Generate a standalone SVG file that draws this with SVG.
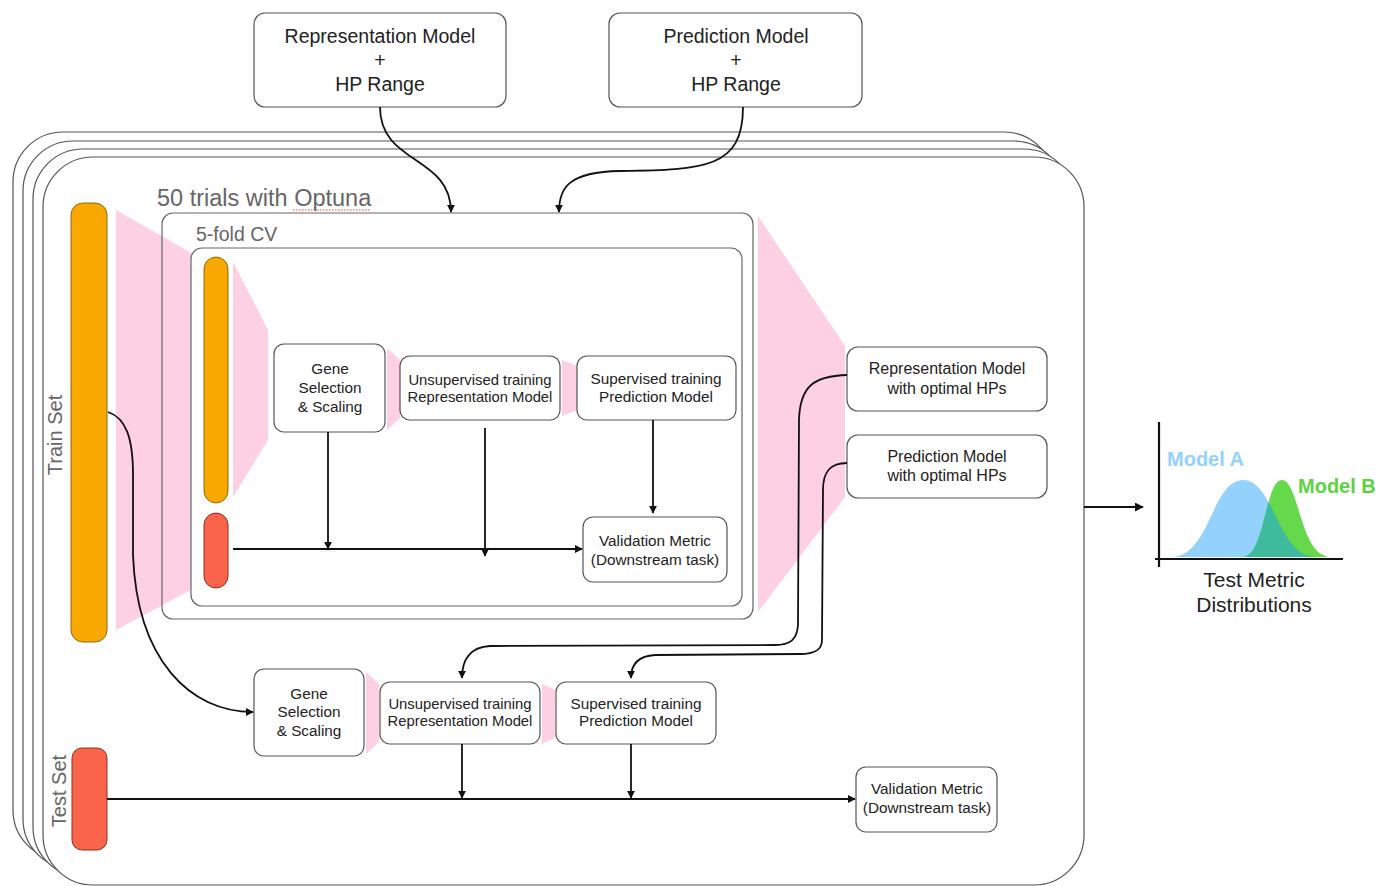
<svg xmlns="http://www.w3.org/2000/svg" width="1380" height="886" viewBox="0 0 1380 886">
<style>
text{font-family:"Liberation Sans",Arial,sans-serif;fill:#222}
.box{fill:#fff;stroke:#555;stroke-width:1.2}
.frame{fill:#fff;stroke:#555;stroke-width:1.2}
.grp{fill:none;stroke:#666;stroke-width:1.2}
.pink{fill:#FDD0E3}
.orange{fill:#F8A800;stroke:#8a6a10;stroke-width:1}
.red{fill:#FA644B;stroke:#8a3020;stroke-width:1}
.lbl{fill:#666}
.t15{font-size:15.3px}
.t14{font-size:14.8px}
.t16{font-size:16px}
.t18{font-size:19.5px}
.conn{fill:none;stroke:#111;stroke-width:1.8}
</style>
<defs>
<marker id="ah" viewBox="0 0 10 10" refX="9" refY="5" markerWidth="8" markerHeight="8" orient="auto" markerUnits="userSpaceOnUse">
<path d="M0,0 L10,5 L0,10 z" fill="#111"/>
</marker>
<marker id="ahs" viewBox="0 0 10 10" refX="9" refY="5" markerWidth="9" markerHeight="9" orient="auto" markerUnits="userSpaceOnUse">
<path d="M0,0 L10,5 L0,10 z" fill="#111"/>
</marker>
<clipPath id="clipA">
<path d="M1172,557 C1210,556 1212,480 1243,480 C1274,480 1278,556 1315,557 Z"/>
</clipPath>
</defs>
<rect width="1380" height="886" fill="#fff"/>

<g id="frames">
<rect class="frame" x="13" y="132" width="1041" height="728" rx="50"/>
<rect class="frame" x="23" y="141" width="1041" height="728" rx="50"/>
<rect class="frame" x="33" y="149" width="1041" height="728" rx="50"/>
<rect class="frame" x="43" y="157" width="1041" height="728" rx="50"/>
</g>

<g id="pink-bands">
<polygon class="pink" points="116,210 200,258 200,585 116,630"/>
<polygon class="pink" points="758,216 845,346 845,497 758,612"/>
<polygon class="pink" points="366,672 379,684 379,742 366,754"/>
<polygon class="pink" points="542,684 555,690 555,738 542,744"/>
</g>

<g id="trials-group">
<rect class="grp" x="162" y="213" width="591" height="406" rx="11"/>
<text class="lbl" x="157" y="206" font-size="23.5">50 trials with Optuna</text>
<line x1="293" y1="210" x2="371" y2="210" stroke="#e04040" stroke-width="1.2" stroke-dasharray="1.5,1.5"/>
</g>

<g id="cv-group">
<rect class="box" x="191" y="248" width="551" height="358" rx="11" style="stroke:#666"/>
<text class="lbl" x="196" y="241" font-size="19.5">5-fold CV</text>
<polygon class="pink" points="233,262 268,330 268,440 233,497"/>
<polygon class="pink" points="387,348 400,360 400,418 387,430"/>
<polygon class="pink" points="562,360 577,366 577,410 562,416"/>
</g>

<g id="train-set">
<rect class="orange" x="71" y="203" width="36" height="439" rx="12"/>
<text class="lbl" transform="translate(62,435) rotate(-90)" text-anchor="middle" font-size="20">Train Set</text>
</g>
<g id="test-set">
<rect class="red" x="72" y="748" width="35" height="102" rx="10"/>
<text class="lbl" transform="translate(66,791) rotate(-90)" text-anchor="middle" font-size="20">Test Set</text>
</g>
<g id="cv-train-bar"><rect class="orange" x="204" y="257" width="24" height="246" rx="12"/></g>
<g id="cv-val-bar"><rect class="red" x="204" y="513" width="24" height="75" rx="12"/></g>

<g id="rep-hp">
<rect class="box" x="254" y="13" width="252" height="94" rx="11"/>
<text class="t18" text-anchor="middle" x="380" y="43">Representation Model</text>
<text class="t18" text-anchor="middle" x="380" y="67">+</text>
<text class="t18" text-anchor="middle" x="380" y="91">HP Range</text>
</g>
<g id="pred-hp">
<rect class="box" x="609" y="13" width="253" height="94" rx="11"/>
<text class="t18" text-anchor="middle" x="736" y="43">Prediction Model</text>
<text class="t18" text-anchor="middle" x="736" y="67">+</text>
<text class="t18" text-anchor="middle" x="736" y="91">HP Range</text>
</g>

<g id="cv-gene">
<rect class="box" x="274" y="344" width="111" height="88" rx="10"/>
<text class="t15" text-anchor="middle" x="330" y="374">Gene</text>
<text class="t15" text-anchor="middle" x="330" y="393">Selection</text>
<text class="t15" text-anchor="middle" x="330" y="412">&amp; Scaling</text>
</g>
<g id="cv-unsup">
<rect class="box" x="400" y="356" width="160" height="64" rx="10"/>
<text class="t14" text-anchor="middle" x="480" y="385">Unsupervised training</text>
<text class="t14" text-anchor="middle" x="480" y="402">Representation Model</text>
</g>
<g id="cv-sup">
<rect class="box" x="577" y="356" width="159" height="64" rx="10"/>
<text class="t15" text-anchor="middle" x="656" y="384">Supervised training</text>
<text class="t15" text-anchor="middle" x="656" y="402">Prediction Model</text>
</g>
<g id="cv-val">
<rect class="box" x="583" y="517" width="144" height="65" rx="10"/>
<text class="t15" text-anchor="middle" x="655" y="546" font-size="15.6">Validation Metric</text>
<text class="t15" text-anchor="middle" x="655" y="565" font-size="15.6">(Downstream task)</text>
</g>

<g id="rep-opt">
<rect class="box" x="847" y="347" width="200" height="64" rx="11"/>
<text class="t16" text-anchor="middle" x="947" y="374">Representation Model</text>
<text class="t16" text-anchor="middle" x="947" y="394">with optimal HPs</text>
</g>
<g id="pred-opt">
<rect class="box" x="847" y="435" width="200" height="63" rx="11"/>
<text class="t16" text-anchor="middle" x="947" y="462">Prediction Model</text>
<text class="t16" text-anchor="middle" x="947" y="481">with optimal HPs</text>
</g>

<g id="gene">
<rect class="box" x="254" y="669" width="110" height="87" rx="10"/>
<text class="t15" text-anchor="middle" x="309" y="699">Gene</text>
<text class="t15" text-anchor="middle" x="309" y="717">Selection</text>
<text class="t15" text-anchor="middle" x="309" y="736">&amp; Scaling</text>
</g>
<g id="unsup">
<rect class="box" x="380" y="682" width="160" height="62" rx="10"/>
<text class="t14" text-anchor="middle" x="460" y="709">Unsupervised training</text>
<text class="t14" text-anchor="middle" x="460" y="726">Representation Model</text>
</g>
<g id="sup">
<rect class="box" x="556" y="682" width="160" height="62" rx="10"/>
<text class="t15" text-anchor="middle" x="636" y="709">Supervised training</text>
<text class="t15" text-anchor="middle" x="636" y="726">Prediction Model</text>
</g>
<g id="val">
<rect class="box" x="856" y="767" width="141" height="65" rx="10"/>
<text class="t15" text-anchor="middle" x="927" y="794" font-size="15.6">Validation Metric</text>
<text class="t15" text-anchor="middle" x="927" y="813" font-size="15.6">(Downstream task)</text>
</g>

<g id="chart">
<path d="M1172,557 C1210,556 1212,480 1243,480 C1274,480 1278,556 1315,557 Z" fill="#93D2FD"/>
<path d="M1243,557 C1265,556 1265,480 1282,480 C1299,480 1300,556 1330,557 Z" fill="#66D84C"/>
<path d="M1243,557 C1265,556 1265,480 1282,480 C1299,480 1300,556 1330,557 Z" fill="#3DBB9C" clip-path="url(#clipA)"/>
<line x1="1159" y1="422" x2="1159" y2="567" stroke="#111" stroke-width="2.2"/>
<line x1="1155" y1="559" x2="1343" y2="559" stroke="#111" stroke-width="2.2"/>
<text x="1167" y="466" font-size="20" font-weight="bold" style="fill:#93D2FD">Model A</text>
<text x="1298" y="493" font-size="20" font-weight="bold" style="fill:#5DD33F">Model B</text>
<text text-anchor="middle" x="1254" y="587" font-size="21">Test Metric</text>
<text text-anchor="middle" x="1254" y="612" font-size="21">Distributions</text>
</g>

<g id="connectors">
<path class="conn" d="M380,107 C380,165 451,155 451,212" marker-end="url(#ah)"/>
<path class="conn" d="M743,107 C743,168 705,170 620,171 C568,172 559,188 559,212" marker-end="url(#ah)"/>
<path class="conn" d="M233,549 L582,549" marker-end="url(#ah)"/>
<path class="conn" d="M328,432 L328,549" marker-end="url(#ah)"/>
<path class="conn" d="M485,428 L485,556" marker-end="url(#ah)"/>
<path class="conn" d="M653,420 L653,513" marker-end="url(#ah)"/>
<path class="conn" d="M847,375 C815,376 800,385 799,420 L798,625 C797,640 790,645 775,645 L490,646 C470,647 462,660 462,678" marker-end="url(#ah)"/>
<path class="conn" d="M847,463 C830,463 823,472 823,490 L822,640 C822,650 815,654 800,654 L655,655 C637,656 631,665 631,678" marker-end="url(#ah)"/>
<path class="conn" d="M108,412 C126,418 133,438 133,475 L133,555 C137,660 190,712 253,712" marker-end="url(#ah)"/>
<path class="conn" d="M107,799 L855,799" marker-end="url(#ah)"/>
<path class="conn" d="M462,744 L462,798" marker-end="url(#ah)"/>
<path class="conn" d="M631,744 L631,798" marker-end="url(#ah)"/>
<path class="conn" d="M1084,507 L1143,507" marker-end="url(#ahs)"/>
</g>
</svg>
